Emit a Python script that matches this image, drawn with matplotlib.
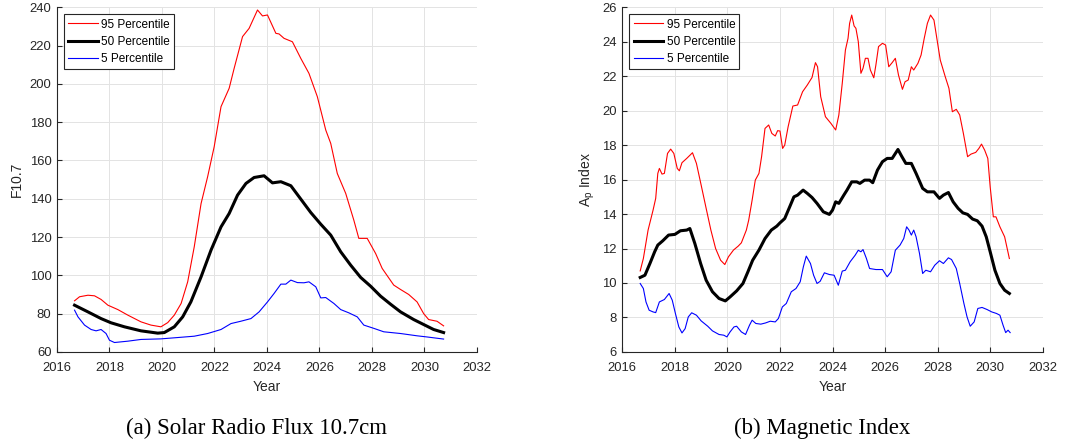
import matplotlib
matplotlib.use("Agg")
import matplotlib.pyplot as plt

# ---------------------------------------------------------------------------
# F10.7 solar radio flux percentiles
# ---------------------------------------------------------------------------
f107_yr_95 = [2016.67, 2016.86, 2017.18, 2017.43, 2017.68, 2017.94, 2018.32, 2018.70,
              2019.20, 2019.58, 2019.96, 2020.22, 2020.47, 2020.73, 2020.98, 2021.23,
              2021.49, 2021.74, 2021.99, 2022.25, 2022.56, 2022.75, 2023.07, 2023.32,
              2023.64, 2023.83, 2024.02, 2024.34, 2024.46, 2024.65, 2024.97, 2025.29,
              2025.60, 2025.92, 2026.24, 2026.43, 2026.68, 2027.00, 2027.31, 2027.50,
              2027.82, 2028.14, 2028.39, 2028.83, 2029.09, 2029.40, 2029.72, 2029.97,
              2030.16, 2030.48, 2030.73]
f107_95 = [86.7, 88.8, 89.6, 89.3, 87.4, 84.4, 82.1, 79.2,
           75.7, 74.0, 73.1, 75.3, 79.2, 85.3, 96.6, 114.9,
           137.5, 151.5, 167.2, 188.1, 197.7, 208.1, 224.7, 229.0,
           238.6, 235.5, 236.0, 226.4, 226.1, 223.8, 222.0, 213.3,
           205.5, 193.3, 175.9, 168.9, 153.2, 142.8, 128.8, 119.3,
           119.3, 111.4, 103.6, 94.9, 92.6, 90.0, 86.1, 80.0,
           76.9, 76.0, 73.6]

f107_yr_50 = [2016.67, 2017.18, 2017.68, 2018.06, 2018.57, 2019.20, 2019.84, 2020.09,
              2020.47, 2020.79, 2021.10, 2021.49, 2021.87, 2022.25, 2022.56, 2022.88,
              2023.20, 2023.51, 2023.89, 2024.21, 2024.53, 2024.91, 2025.29, 2025.67,
              2026.05, 2026.43, 2026.81, 2027.19, 2027.57, 2027.95, 2028.33, 2028.71,
              2029.09, 2029.59, 2029.97, 2030.35, 2030.73]
f107_50 = [84.4, 80.9, 77.4, 75.2, 73.1, 71.0, 69.8, 70.1,
           73.1, 78.3, 86.1, 99.2, 113.2, 125.3, 132.3, 141.9,
           148.0, 151.1, 152.0, 148.3, 148.9, 146.8, 139.8, 132.8,
           126.7, 121.0, 112.3, 105.3, 98.9, 94.3, 89.1, 84.9,
           80.9, 76.9, 74.3, 71.7, 70.1]

f107_yr_5 = [2016.67, 2016.80, 2017.05, 2017.30, 2017.49, 2017.68, 2017.87, 2018.00,
             2018.19, 2018.70, 2019.20, 2019.96, 2020.60, 2021.23, 2021.74, 2022.25,
             2022.63, 2023.00, 2023.39, 2023.70, 2024.02, 2024.27, 2024.53, 2024.72,
             2024.91, 2025.16, 2025.41, 2025.60, 2025.86, 2026.05, 2026.24, 2026.55,
             2026.81, 2027.12, 2027.44, 2027.69, 2028.07, 2028.45, 2029.09, 2029.72,
             2030.10, 2030.73]
f107_5 = [81.8, 78.3, 74.0, 71.7, 71.0, 71.7, 69.6, 66.1,
          64.9, 65.6, 66.5, 66.8, 67.5, 68.2, 69.6, 71.7,
          74.8, 76.0, 77.4, 80.9, 86.1, 90.5, 95.4, 95.4,
          97.5, 96.2, 96.1, 96.6, 94.0, 88.2, 88.4, 85.3,
          82.1, 80.4, 78.3, 74.0, 72.3, 70.5, 69.6, 68.4,
          67.8, 66.7]

# ---------------------------------------------------------------------------
# Ap magnetic index percentiles
# ---------------------------------------------------------------------------
ap_yr_95 = [2016.68, 2016.80, 2016.98, 2017.17, 2017.27, 2017.35, 2017.41, 2017.51,
            2017.60, 2017.72, 2017.84, 2017.96, 2018.09, 2018.17, 2018.27, 2018.45,
            2018.67, 2018.82, 2019.00, 2019.19, 2019.37, 2019.55, 2019.74, 2019.90,
            2020.04, 2020.23, 2020.41, 2020.53, 2020.72, 2020.81, 2020.94, 2021.06,
            2021.20, 2021.30, 2021.43, 2021.57, 2021.69, 2021.82, 2021.91, 2022.00,
            2022.10, 2022.18, 2022.31, 2022.49, 2022.67, 2022.86, 2023.04, 2023.22,
            2023.35, 2023.43, 2023.55, 2023.73, 2023.94, 2024.12, 2024.24, 2024.37,
            2024.49, 2024.59, 2024.65, 2024.73, 2024.82, 2024.89, 2024.98, 2025.08,
            2025.16, 2025.25, 2025.35, 2025.44, 2025.57, 2025.65, 2025.75, 2025.90,
            2026.02, 2026.14, 2026.27, 2026.39, 2026.51, 2026.66, 2026.76, 2026.88,
            2027.00, 2027.09, 2027.25, 2027.37, 2027.49, 2027.61, 2027.73, 2027.86,
            2027.98, 2028.10, 2028.29, 2028.43, 2028.56, 2028.71, 2028.84, 2028.98,
            2029.14, 2029.27, 2029.45, 2029.57, 2029.67, 2029.79, 2029.91, 2030.00,
            2030.12, 2030.22, 2030.37, 2030.55, 2030.73]
ap_95 = [10.70, 11.42, 13.07, 14.23, 14.91, 16.36, 16.65, 16.32,
         16.36, 17.52, 17.77, 17.52, 16.65, 16.51, 16.98, 17.23,
         17.56, 16.94, 15.68, 14.33, 13.07, 12.00, 11.32, 11.07,
         11.52, 11.91, 12.14, 12.33, 13.07, 13.65, 14.81, 15.97,
         16.36, 17.33, 18.97, 19.17, 18.68, 18.53, 18.84, 18.82,
         17.81, 18.00, 19.07, 20.27, 20.33, 21.10, 21.49, 21.93,
         22.79, 22.55, 20.81, 19.65, 19.26, 18.88, 19.75, 21.59,
         23.52, 24.20, 25.07, 25.55, 24.92, 24.78, 24.01, 22.17,
         22.46, 23.04, 23.04, 22.36, 21.91, 22.65, 23.72, 23.91,
         23.81, 22.55, 22.79, 23.04, 22.07, 21.24, 21.68, 21.78,
         22.55, 22.36, 22.75, 23.23, 24.20, 25.07, 25.55, 25.26,
         24.10, 22.94, 21.97, 21.30, 19.94, 20.08, 19.75, 18.68,
         17.33, 17.48, 17.58, 17.81, 18.06, 17.71, 17.23, 15.58,
         13.84, 13.84, 13.26, 12.68, 11.42]

ap_yr_50 = [2016.68, 2016.86, 2017.05, 2017.23, 2017.35, 2017.54, 2017.76, 2018.00,
            2018.21, 2018.45, 2018.57, 2018.76, 2018.98, 2019.19, 2019.43, 2019.68,
            2019.92, 2020.10, 2020.35, 2020.59, 2020.78, 2020.96, 2021.20, 2021.43,
            2021.67, 2021.88, 2022.00, 2022.18, 2022.37, 2022.53, 2022.67, 2022.88,
            2023.04, 2023.22, 2023.41, 2023.65, 2023.88, 2024.00, 2024.12, 2024.24,
            2024.43, 2024.55, 2024.73, 2024.92, 2025.04, 2025.22, 2025.41, 2025.53,
            2025.71, 2025.90, 2026.08, 2026.27, 2026.49, 2026.63, 2026.79, 2027.00,
            2027.18, 2027.43, 2027.61, 2027.86, 2028.07, 2028.22, 2028.41, 2028.59,
            2028.78, 2028.96, 2029.14, 2029.33, 2029.51, 2029.69, 2029.85, 2030.00,
            2030.18, 2030.37, 2030.55, 2030.73]
ap_50 = [10.32, 10.45, 11.13, 11.81, 12.20, 12.45, 12.78, 12.82,
         13.03, 13.07, 13.16, 12.29, 11.13, 10.16, 9.49, 9.10,
         8.96, 9.19, 9.54, 9.97, 10.65, 11.32, 11.91, 12.58,
         13.07, 13.30, 13.49, 13.74, 14.42, 15.00, 15.10, 15.39,
         15.20, 14.96, 14.62, 14.13, 13.98, 14.23, 14.71, 14.62,
         15.10, 15.39, 15.87, 15.87, 15.78, 15.97, 15.97, 15.82,
         16.55, 17.04, 17.23, 17.23, 17.75, 17.36, 16.94, 16.94,
         16.36, 15.49, 15.29, 15.29, 14.91, 15.10, 15.25, 14.71,
         14.33, 14.07, 13.98, 13.71, 13.61, 13.30, 12.68, 11.81,
         10.74, 9.97, 9.58, 9.39]

ap_yr_5 = [2016.68, 2016.80, 2016.90, 2017.02, 2017.17, 2017.27, 2017.41, 2017.60,
           2017.78, 2017.90, 2018.02, 2018.15, 2018.27, 2018.39, 2018.51, 2018.64,
           2018.82, 2019.00, 2019.25, 2019.43, 2019.68, 2019.86, 2019.98, 2020.10,
           2020.25, 2020.35, 2020.53, 2020.69, 2020.84, 2020.94, 2021.08, 2021.27,
           2021.45, 2021.63, 2021.82, 2021.94, 2022.09, 2022.24, 2022.43, 2022.61,
           2022.77, 2022.89, 2023.00, 2023.16, 2023.28, 2023.41, 2023.53, 2023.69,
           2023.88, 2024.06, 2024.22, 2024.37, 2024.49, 2024.67, 2024.86, 2024.98,
           2025.08, 2025.16, 2025.29, 2025.41, 2025.65, 2025.90, 2026.08, 2026.23,
           2026.39, 2026.57, 2026.71, 2026.82, 2026.91, 2027.00, 2027.09, 2027.18,
           2027.31, 2027.43, 2027.55, 2027.73, 2027.89, 2028.07, 2028.22, 2028.41,
           2028.53, 2028.71, 2028.84, 2029.00, 2029.12, 2029.24, 2029.39, 2029.53,
           2029.69, 2029.88, 2030.06, 2030.24, 2030.37, 2030.49, 2030.59, 2030.68,
           2030.76]
ap_5 = [9.97, 9.68, 8.90, 8.42, 8.32, 8.28, 8.90, 9.04,
        9.39, 9.00, 8.23, 7.45, 7.10, 7.35, 8.03, 8.27,
        8.13, 7.80, 7.49, 7.22, 7.01, 6.97, 6.87, 7.16,
        7.45, 7.49, 7.16, 7.01, 7.55, 7.84, 7.65, 7.61,
        7.68, 7.78, 7.74, 7.94, 8.61, 8.81, 9.49, 9.68,
        10.07, 10.94, 11.56, 11.13, 10.45, 9.97, 10.10, 10.59,
        10.49, 10.45, 9.87, 10.69, 10.74, 11.23, 11.61, 11.90,
        11.81, 11.94, 11.42, 10.84, 10.78, 10.78, 10.36, 10.65,
        11.90, 12.20, 12.58, 13.26, 13.07, 12.78, 13.07, 12.68,
        11.71, 10.55, 10.74, 10.65, 11.03, 11.29, 11.13, 11.46,
        11.36, 10.84, 9.97, 8.81, 8.03, 7.49, 7.74, 8.52,
        8.58, 8.46, 8.32, 8.23, 8.13, 7.55, 7.12, 7.26,
        7.12]

year_ticks = list(range(2016, 2033, 2))
f107_ticks = list(range(60, 241, 20))
ap_ticks = list(range(6, 27, 2))

# ---------------------------------------------------------------------------
# Figure
# ---------------------------------------------------------------------------
plt.rcParams['font.family'] = ['Liberation Sans', 'DejaVu Sans']
dark = '#262626'

fig = plt.figure(figsize=(10.81, 4.46), dpi=100)
ax1 = fig.add_axes([0.0527, 0.2110, 0.3885, 0.7726])
ax2 = fig.add_axes([0.5757, 0.2110, 0.3889, 0.7726])


def style_axis(ax, yticks, ylab):
    ax.set_xlim(2016, 2032)
    ax.set_ylim(yticks[0], yticks[-1])
    ax.set_xticks(year_ticks)
    ax.set_yticks(yticks)
    ax.grid(True, color='#e3e3e3', linewidth=0.7)
    ax.set_axisbelow(True)
    for s in ['top', 'right']:
        ax.spines[s].set_visible(False)
    for s in ['left', 'bottom']:
        ax.spines[s].set_color(dark)
        ax.spines[s].set_linewidth(0.8)
    ax.tick_params(direction='in', length=3.5, width=0.8, color=dark,
                   labelcolor=dark, labelsize=9.4)
    ax.tick_params(axis='x', pad=7.5)
    ax.tick_params(axis='y', pad=4)
    ax.set_xlabel('Year', fontsize=10, color=dark, labelpad=4)
    ax.set_ylabel(ylab, fontsize=10, color=dark, labelpad=4)
    leg = ax.legend(loc='upper left', fontsize=8.5, fancybox=False,
                    framealpha=1, edgecolor=dark, borderpad=0.35,
                    labelspacing=0.45, handlelength=2.5, handletextpad=0.3,
                    borderaxespad=0.6)
    leg.get_frame().set_linewidth(0.8)


ax1.plot(f107_yr_95, f107_95, color='red', linewidth=0.8, label='95 Percentile')
ax1.plot(f107_yr_50, f107_50, color='black', linewidth=2.2, label='50 Percentile')
ax1.plot(f107_yr_5, f107_5, color='blue', linewidth=0.8, label='5 Percentile')
style_axis(ax1, f107_ticks, 'F10.7')

ax2.plot(ap_yr_95, ap_95, color='red', linewidth=0.8, label='95 Percentile')
ax2.plot(ap_yr_50, ap_50, color='black', linewidth=2.2, label='50 Percentile')
ax2.plot(ap_yr_5, ap_5, color='blue', linewidth=0.8, label='5 Percentile')
style_axis(ax2, ap_ticks, r'$\mathregular{A_p}$ Index')

# captions under each panel
fig.text(0.237, 0.040, '(a) Solar Radio Flux 10.7cm', ha='center', va='center',
         family='Liberation Serif', fontsize=16.5, color='black')
fig.text(0.761, 0.040, '(b) Magnetic Index', ha='center', va='center',
         family='Liberation Serif', fontsize=16.5, color='black')

plt.savefig('out.png', dpi=100)
